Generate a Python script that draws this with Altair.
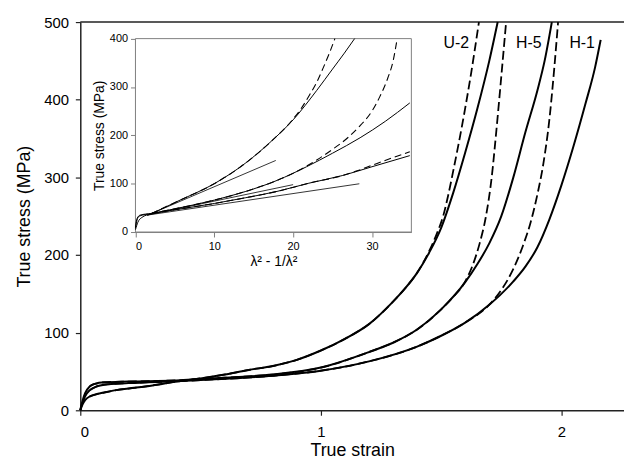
import altair as alt
import pandas as pd

FONT = "Liberation Sans"

# ---------------- main plot data (true strain, true stress MPa) ----------------
U2_eps = [0, 0.01, 0.02, 0.04, 0.07, 0.1, 0.15, 0.2, 0.3, 0.4, 0.5, 0.6, 0.7, 0.8, 0.9, 1.0,
          1.1, 1.2, 1.3, 1.35, 1.4, 1.45, 1.5, 1.55, 1.6, 1.65, 1.7, 1.735]
U2_sig = [0, 8, 13, 18, 21, 23, 26, 28, 32, 37, 41, 46, 52, 57, 65, 77,
          92, 111, 140, 157, 177, 203, 235, 280, 332, 388, 450, 500]
U2d_eps = [0.04, 0.07, 0.1, 0.15, 0.2, 0.3, 0.4, 0.5, 0.6, 0.7, 0.8, 0.9, 1.0, 1.1, 1.2,
           1.3, 1.35, 1.4, 1.45, 1.48, 1.51, 1.53, 1.55, 1.59, 1.625, 1.657]
U2d_sig = [18, 21, 23, 26, 28, 32, 37, 41, 46, 52, 57, 65, 77, 92, 111,
           140, 157, 177, 205, 226, 252, 278, 308, 372, 435, 500]

H5_eps = [0, 0.005, 0.01, 0.02, 0.04, 0.06, 0.1, 0.2, 0.4, 0.6, 0.8, 1.0, 1.2, 1.3, 1.4,
          1.5, 1.6, 1.65, 1.7, 1.75, 1.8, 1.85, 1.9, 1.93, 1.96]
H5_sig = [0, 7, 13, 22, 31, 34, 36, 37, 38.5, 42, 46, 55, 75, 87, 104,
          130, 165, 188, 215, 250, 300, 358, 412, 450, 500]
H5d_eps = [0.04, 0.06, 0.1, 0.2, 0.4, 0.6, 0.8, 1.0, 1.2, 1.3, 1.4, 1.5, 1.55, 1.6, 1.63,
           1.66, 1.685, 1.71, 1.73, 1.75, 1.77]
H5d_sig = [31, 34, 36, 37, 38.5, 42, 46, 55, 75, 87, 104, 130, 146, 166, 186,
           215, 248, 300, 362, 430, 500]

H1_eps = [0, 0.005, 0.01, 0.02, 0.04, 0.07, 0.1, 0.2, 0.4, 0.6, 0.8, 1.0, 1.2, 1.4, 1.5,
          1.6, 1.7, 1.8, 1.85, 1.9, 1.95, 2.0, 2.05, 2.1, 2.14, 2.163]
H1_sig = [0, 6, 10, 18, 26, 31, 33, 35, 37.5, 40.5, 44.5, 51, 63, 82, 96,
          113, 136, 166, 185, 210, 246, 290, 340, 395, 442, 477]
H1d_eps = [0.04, 0.07, 0.1, 0.2, 0.4, 0.6, 0.8, 1.0, 1.2, 1.4, 1.5, 1.6, 1.7, 1.75, 1.8,
           1.84, 1.87, 1.9, 1.925, 1.95, 1.97, 1.986]
H1d_sig = [26, 31, 33, 35, 37.5, 40.5, 44.5, 51, 63, 82, 96, 113, 136, 155, 182,
           212, 240, 278, 318, 375, 440, 500]

LABELS = ["U-2", "H-5", "H-1"]
LABEL_X = [1.51, 1.811, 2.033]
LABEL_Y = [466, 466, 466]

# ---------------- inset data (lambda^2 - 1/lambda^2, true stress MPa) ----------------
I_U2_x = [0, 0.3, 0.8, 2, 5.4, 10, 14, 17.25, 20, 23, 25, 26.5, 27.8]
I_U2_y = [5, 20, 30, 38, 64, 100, 143, 188, 232, 293, 337, 370, 400]
I_U2d_x = [2, 5.4, 10, 14, 17.25, 19.6, 21, 22.1, 23, 23.8, 24.6, 25.3]
I_U2d_y = [38, 64, 100, 143, 188, 226, 255, 284, 310, 339, 370, 400]
I_U2l_x = [1.5, 17.8]
I_U2l_y = [34.5, 148]

I_H5_x = [0, 0.2, 0.6, 2, 5, 10, 14, 18, 21.7, 25, 28.5, 31.7, 34.8]
I_H5_y = [10, 28, 35, 38.5, 48, 66, 84, 107, 135, 163, 195, 229, 267]
I_H5d_x = [2, 5, 10, 14, 18, 21, 23, 25, 27, 28.5, 30, 31, 32, 32.7, 33.2]
I_H5d_y = [38.5, 48, 66, 84, 107, 130, 149, 171, 196, 220, 250, 280, 318, 355, 400]
I_H5l_x = [1.5, 20]
I_H5l_y = [35, 98]

I_H1_x = [0, 0.2, 0.5, 2, 5, 10, 14, 17.96, 22, 26.3, 30, 34.8]
I_H1_y = [8, 25, 33, 38, 46, 59, 71, 84, 101, 117, 135, 158]
I_H1d_x = [2, 5, 10, 14, 17.96, 22, 26.3, 28, 30, 32, 34.8]
I_H1d_y = [38, 46, 59, 71, 84, 101, 117, 126, 138, 150, 166]
I_H1l_x = [1.5, 28.4]
I_H1l_y = [35, 99.8]


def long(pairs):
    rows = []
    for name, xs, ys in pairs:
        for a, b in zip(xs, ys):
            rows.append({"x": a, "y": b, "series": name})
    return pd.DataFrame(rows)


main_solid = long([("U-2", U2_eps, U2_sig), ("H-5", H5_eps, H5_sig), ("H-1", H1_eps, H1_sig)])
main_dash = long([("U-2", U2d_eps, U2d_sig), ("H-5", H5d_eps, H5d_sig), ("H-1", H1d_eps, H1d_sig)])
labels_df = pd.DataFrame({"x": LABEL_X, "y": LABEL_Y, "label": LABELS})

in_solid = long([("U-2", I_U2_x, I_U2_y), ("H-5", I_H5_x, I_H5_y), ("H-1", I_H1_x, I_H1_y)])
in_dash = long([("U-2", I_U2d_x, I_U2d_y), ("H-5", I_H5d_x, I_H5d_y), ("H-1", I_H1d_x, I_H1d_y)])
in_lin = long([("U-2", I_U2l_x, I_U2l_y), ("H-5", I_H5l_x, I_H5l_y), ("H-1", I_H1l_x, I_H1l_y)])
frame_df = pd.DataFrame({"x": [0], "x2": [35], "y": [0], "y2": [400]})

W, H = 549, 392
AX = "#222222"
GR = "#808080"

xs_main = alt.Scale(domain=[0, 2.26], nice=False, zero=False)
ys_main = alt.Scale(domain=[0, 500], nice=False)

x_axis_main = alt.Axis(values=[0, 1, 2], title="True strain", titleFontSize=18,
                       titleFontWeight="normal", titleFont=FONT, labelFont=FONT,
                       labelFontSize=15, tickSize=5, labelPadding=9, titlePadding=3,
                       domainColor=AX, tickColor=AX, domainWidth=1.5, tickWidth=1.2,
                       labelColor="black", titleColor="black", grid=False, format="d")
y_axis_main = alt.Axis(values=[0, 100, 200, 300, 400, 500], title="True stress (MPa)",
                       titleFontSize=18, titleFontWeight="normal", titleFont=FONT,
                       labelFont=FONT, labelFontSize=15, tickSize=5, labelPadding=7,
                       titlePadding=10, domainColor=AX, tickColor=AX, domainWidth=1.5,
                       tickWidth=1.2, labelColor="black", titleColor="black", grid=False)

MX = alt.X("x:Q", scale=xs_main, axis=x_axis_main)
MY = alt.Y("y:Q", scale=ys_main, axis=y_axis_main)

top_rule = alt.Chart(pd.DataFrame({"y": [500]})).mark_rule(color=AX, strokeWidth=1.5).encode(y=MY)
m_solid = alt.Chart(main_solid).mark_line(color="black", strokeWidth=2, interpolate="monotone").encode(
    x=MX, y=MY, detail="series:N")
m_dash = alt.Chart(main_dash).mark_line(color="black", strokeWidth=1.8, strokeDash=[9, 4],
                                        interpolate="monotone").encode(x=MX, y=MY, detail="series:N")
m_text = alt.Chart(labels_df).mark_text(align="left", baseline="alphabetic", fontSize=16,
                                        font=FONT, color="black").encode(x=MX, y=MY, text="label:N")

main = alt.layer(top_rule, m_solid, m_dash, m_text)

# inset placed through its own scales' pixel ranges
xs_in = alt.Scale(domain=[0, 35], range=[55.7, 334.3], nice=False, zero=False)
ys_in = alt.Scale(domain=[0, 400], range=[212, 16.7], nice=False)

x_axis_in = alt.Axis(values=[0, 10, 20, 30], title="λ² - 1/λ²", orient="bottom", offset=-(H - 212),
                     titleFontSize=14, titleFontWeight="normal", titleFont=FONT, labelFont=FONT,
                     labelFontSize=11, tickSize=5, labelPadding=4, titlePadding=3,
                     domainColor=GR, tickColor=GR, labelColor="black", titleColor="black",
                     grid=False)
y_axis_in = alt.Axis(values=[0, 100, 200, 300, 400], title="True stress (MPa)", orient="left",
                     offset=-55.7, titleFontSize=14, titleFontWeight="normal", titleFont=FONT,
                     labelFont=FONT, labelFontSize=11, tickSize=5, labelPadding=3, titlePadding=3,
                     domainColor=GR, tickColor=GR, labelColor="black", titleColor="black",
                     grid=False)

IX = alt.X("x:Q", scale=xs_in, axis=x_axis_in)
IY = alt.Y("y:Q", scale=ys_in, axis=y_axis_in)

frame = alt.Chart(frame_df).mark_rect(fill="white", stroke=GR, strokeWidth=1).encode(
    x=IX, x2="x2:Q", y=IY, y2="y2:Q")
i_solid = alt.Chart(in_solid).mark_line(color="black", strokeWidth=1, interpolate="monotone").encode(
    x=IX, y=IY, detail="series:N")
i_dash = alt.Chart(in_dash).mark_line(color="black", strokeWidth=1.1, strokeDash=[7, 4],
                                      interpolate="monotone").encode(x=IX, y=IY, detail="series:N")
i_lin = alt.Chart(in_lin).mark_line(color="black", strokeWidth=0.8).encode(x=IX, y=IY, detail="series:N")

inset = alt.layer(frame, i_lin, i_solid, i_dash)

chart = alt.layer(main, inset).resolve_scale(x="independent", y="independent").properties(
    width=W, height=H,
    autosize=alt.AutoSizeParams(type="none"),
    padding={"left": 73, "top": 12, "right": 0, "bottom": 50},
    background="white",
).configure_view(stroke=None)

chart.save("out.html", embed_options={"renderer": "svg", "actions": False})
